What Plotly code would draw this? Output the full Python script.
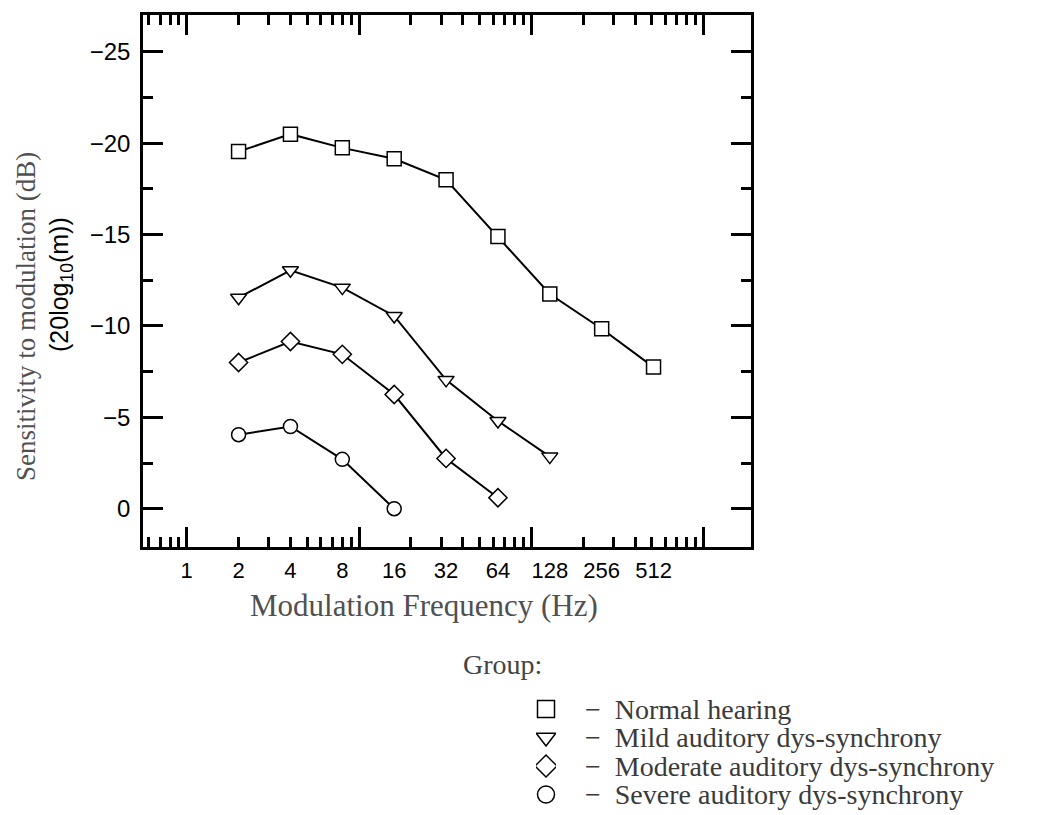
import plotly.graph_objects as go

freq_labels = ["1", "2", "4", "8", "16", "32", "64", "128", "256", "512"]
freq_vals = [1, 2, 4, 8, 16, 32, 64, 128, 256, 512]

groups = ["Normal hearing", "Mild auditory dys-synchrony",
          "Moderate auditory dys-synchrony", "Severe auditory dys-synchrony"]
symbols = ["square", "triangle-down", "diamond", "circle"]

normal_x = [2, 4, 8, 16, 32, 64, 128, 256, 512]
normal_y = [-19.55, -20.5, -19.75, -19.15, -18.0, -14.9, -11.75, -9.85, -7.75]
mild_x = [2, 4, 8, 16, 32, 64, 128]
mild_y = [-11.55, -13.05, -12.1, -10.55, -7.05, -4.8, -2.85]
moderate_x = [2, 4, 8, 16, 32, 64]
moderate_y = [-8.0, -9.15, -8.45, -6.25, -2.75, -0.6]
severe_x = [2, 4, 8, 16]
severe_y = [-4.05, -4.5, -2.7, 0.0]

series_x = [normal_x, mild_x, moderate_x, severe_x]
series_y = [normal_y, mild_y, moderate_y, severe_y]

W, H = 1056, 807  # page body adds an 8px offset


def px(x):
    return (x - 8) / W


def py(y):
    return 1 - (y - 8) / H


fig = go.Figure()
for xs, ys in zip(series_x, series_y):
    fig.add_trace(go.Scatter(x=xs, y=ys, mode="lines", xaxis="x", yaxis="y",
                             line=dict(color="black", width=2),
                             showlegend=False, hoverinfo="skip"))
for xs, ys, name, sym in zip(series_x, series_y, groups, symbols):
    fig.add_trace(go.Scatter(
        x=xs, y=ys, mode="markers", name=name, xaxis="x2", yaxis="y",
        showlegend=False,
        marker=dict(symbol=sym, size=14, color="white",
                    line=dict(color="black", width=1.5))))

# key ("Group:") drawn as a tiny subplot: one symbol per group, labels as ticks
fig.add_trace(go.Scatter(
    x=["key"] * len(groups), y=groups, mode="markers", xaxis="x3", yaxis="y3",
    showlegend=False, hoverinfo="skip",
    marker=dict(symbol=symbols, size=17, color="white",
                line=dict(color="black", width=1.5))))

xr = [-0.2525, 3.272]
xdom = [px(143.2), px(750.5)]
ydom = [py(546.5), py(14.5)]
fig.update_layout(
    width=W, height=H,
    margin=dict(l=0, r=0, t=0, b=0, autoexpand=False),
    plot_bgcolor="white", paper_bgcolor="white",
    showlegend=False,
    xaxis=dict(type="log", range=xr, domain=xdom, anchor="y",
               tickmode="linear", tick0=0, dtick=1,
               ticks="inside", ticklen=20, tickwidth=3, tickcolor="black",
               showticklabels=False, showgrid=False, zeroline=False,
               showline=True, linewidth=3, linecolor="black", mirror="ticks",
               minor=dict(dtick="D1", ticks="inside",
                          ticklen=10, tickwidth=2.5, tickcolor="black", showgrid=False)),
    xaxis2=dict(type="log", range=xr, overlaying="x", anchor="y", side="bottom",
                tickmode="array", tickvals=freq_vals, ticktext=freq_labels,
                ticks="", showgrid=False, zeroline=False, showline=False,
                ticklabelstandoff=8,
                tickfont=dict(family="Liberation Sans", size=22, color="black")),
    yaxis=dict(range=[2.07, -27.05], domain=ydom, anchor="x",
               tickmode="linear", tick0=0, dtick=5,
               ticks="inside", ticklen=20, tickwidth=3, tickcolor="black",
               showgrid=False, zeroline=False,
               showline=True, linewidth=3, linecolor="black", mirror="ticks",
               ticklabelstandoff=5,
               tickfont=dict(family="Liberation Sans", size=24, color="black"),
               minor=dict(dtick=2.5, ticks="inside", ticklen=10,
                          tickwidth=2.5, tickcolor="black", showgrid=False)),
    xaxis3=dict(domain=[px(536), px(556)], anchor="y3", type="category",
                visible=False, fixedrange=True),
    yaxis3=dict(domain=[py(808.75), py(694.75)], anchor="x3", type="category",
                categoryorder="array", categoryarray=groups,
                range=[len(groups) - 0.5, -0.5], side="right",
                tickmode="array", tickvals=groups,
                ticktext=["\u2212\u00a0\u00a0" + g for g in groups],
                ticks="", showline=False, showgrid=False, zeroline=False,
                ticklabelstandoff=28, fixedrange=True,
                tickfont=dict(family="Liberation Serif", size=28, color="#3a3a3a")),
)

fig.add_annotation(text="Modulation Frequency (Hz)", xref="paper", yref="paper",
                   x=px(424), y=py(605), xanchor="center", yanchor="middle",
                   showarrow=False, font=dict(family="Liberation Serif", size=31, color="#505050"))
fig.add_annotation(text="Sensitivity to modulation (dB)", xref="paper", yref="paper",
                   x=px(26), y=py(317), xanchor="center", yanchor="middle",
                   textangle=-90, showarrow=False,
                   font=dict(family="Liberation Serif", size=27, color="#505050"))
fig.add_annotation(text="(20log<sub>10</sub>(m))", xref="paper", yref="paper",
                   x=px(61), y=py(285), xanchor="center", yanchor="middle",
                   textangle=-90, showarrow=False,
                   font=dict(family="Liberation Sans", size=25, color="black"))
fig.add_annotation(text="Group:", xref="paper", yref="paper",
                   x=px(461), y=py(664), xanchor="left", yanchor="middle",
                   showarrow=False, font=dict(family="Liberation Serif", size=28, color="#444444"))

fig.write_html("out.html")
